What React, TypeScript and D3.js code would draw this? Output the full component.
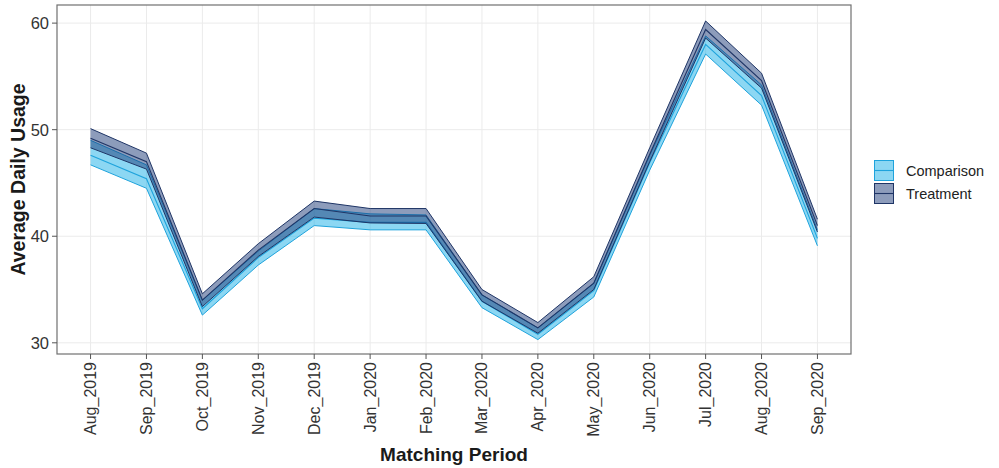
import React from "react";
import * as d3 from "d3";

const months = [
  "Aug_2019", "Sep_2019", "Oct_2019", "Nov_2019", "Dec_2019", "Jan_2020", "Feb_2020",
  "Mar_2020", "Apr_2020", "May_2020", "Jun_2020", "Jul_2020", "Aug_2020", "Sep_2020",
];

// Treatment group: mean and interval bounds
const treatMean = [49.2, 47.0, 34.0, 38.7, 42.6, 41.9, 41.9, 34.5, 31.4, 35.6, 47.7, 59.4, 54.6, 41.0];
const treatLow = [48.3, 46.3, 33.4, 38.1, 41.8, 41.25, 41.2, 33.9, 30.9, 35.0, 47.0, 58.6, 53.9, 40.4];
const treatHigh = [50.1, 47.8, 34.6, 39.3, 43.3, 42.6, 42.6, 35.0, 31.9, 36.2, 48.3, 60.2, 55.3, 41.6];

// Comparison group: mean and interval bounds
const compMean = [47.6, 45.4, 33.2, 38.0, 41.7, 41.3, 41.3, 33.9, 30.8, 34.9, 46.9, 58.0, 53.2, 39.8];
const compLow = [46.7, 44.5, 32.6, 37.3, 41.0, 40.6, 40.6, 33.3, 30.3, 34.3, 46.2, 57.1, 52.3, 39.1];
const compHigh = [49.0, 46.7, 34.0, 38.6, 42.6, 42.1, 42.0, 34.5, 31.4, 35.6, 47.6, 58.8, 54.2, 40.6];

const yTicks = [30, 40, 50, 60];
const groups = ["Comparison", "Treatment"];

const W = 999;
const H = 468;
const panel = { left: 57, right: 851, top: 5, bottom: 354 };

const FONT = "'Liberation Sans', Arial, sans-serif";

const styles: Record<string, { fill: string; fillOpacity: number; stroke: string }> = {
  Comparison: { fill: "#1ab0e8", fillOpacity: 0.5, stroke: "#1ea3dc" },
  Treatment: { fill: "#1c3a78", fillOpacity: 0.5, stroke: "#1f3566" },
};

export default function App() {
  const x = d3
    .scalePoint<string>()
    .domain(months)
    .range([panel.left, panel.right])
    .padding(0.6);
  const y = d3.scaleLinear().domain([28.95, 61.7]).range([panel.bottom, panel.top]);

  const series = [
    { name: "Comparison", mean: compMean, low: compLow, high: compHigh },
    { name: "Treatment", mean: treatMean, low: treatLow, high: treatHigh },
  ];

  const makeArea = (low: number[], high: number[]) =>
    d3
      .area<number>()
      .x((_, i) => x(months[i]) as number)
      .y0((_, i) => y(low[i]))
      .y1((_, i) => y(high[i]))(low) as string;

  const makeLine = (vals: number[]) =>
    d3
      .line<number>()
      .x((_, i) => x(months[i]) as number)
      .y((d) => y(d))(vals) as string;

  const midX = (panel.left + panel.right) / 2;
  const midY = (panel.top + panel.bottom) / 2;

  return (
    <svg width={W} height={H} style={{ position: "absolute", left: 0, top: 0, background: "#fff" }}>
      <rect x={0} y={0} width={W} height={H} fill="#fff" />
      {/* grid */}
      {yTicks.map((t) => (
        <line key={"gy" + t} x1={panel.left} x2={panel.right} y1={y(t)} y2={y(t)} stroke="#ebebeb" strokeWidth={1} />
      ))}
      {months.map((m) => (
        <line key={"gx" + m} x1={x(m)} x2={x(m)} y1={panel.top} y2={panel.bottom} stroke="#ebebeb" strokeWidth={1} />
      ))}

      {/* ribbons and lines */}
      {series.map((s) => {
        const st = styles[s.name];
        return (
          <g key={s.name}>
            <path d={makeArea(s.low, s.high)} fill={st.fill} fillOpacity={st.fillOpacity} stroke="none" />
            <path d={makeLine(s.high)} fill="none" stroke={st.stroke} strokeWidth={1} />
            <path d={makeLine(s.low)} fill="none" stroke={st.stroke} strokeWidth={1} />
            <path d={makeLine(s.mean)} fill="none" stroke={st.stroke} strokeWidth={1.1} />
          </g>
        );
      })}

      {/* panel border */}
      <rect
        x={panel.left}
        y={panel.top}
        width={panel.right - panel.left}
        height={panel.bottom - panel.top}
        fill="none"
        stroke="#707070"
        strokeWidth={1.2}
      />

      {/* y axis */}
      {yTicks.map((t) => (
        <g key={"yt" + t}>
          <line x1={panel.left - 5} x2={panel.left} y1={y(t)} y2={y(t)} stroke="#555" strokeWidth={1} />
          <text
            x={panel.left - 8}
            y={y(t)}
            dy="0.36em"
            textAnchor="end"
            fontFamily={FONT}
            fontSize={16.5}
            fill="#333"
          >
            {t}
          </text>
        </g>
      ))}

      {/* x axis */}
      {months.map((m) => (
        <g key={"xt" + m}>
          <line x1={x(m)} x2={x(m)} y1={panel.bottom} y2={panel.bottom + 5} stroke="#555" strokeWidth={1} />
          <text
            transform={`translate(${(x(m) as number) + 5.5},${panel.bottom + 8}) rotate(-90)`}
            textAnchor="end"
            fontFamily={FONT}
            fontSize={16}
            fill="#333"
          >
            {m}
          </text>
        </g>
      ))}

      {/* axis titles */}
      <text
        x={midX}
        y={461}
        textAnchor="middle"
        fontFamily={FONT}
        fontSize={19}
        fontWeight="bold"
        fill="#1a1a1a"
      >
        Matching Period
      </text>
      <text
        transform={`translate(25,${midY}) rotate(-90)`}
        textAnchor="middle"
        fontFamily={FONT}
        fontSize={19.5}
        fontWeight="bold"
        fill="#1a1a1a"
      >
        Average Daily Usage
      </text>

      {/* legend */}
      {groups.map((g, i) => {
        const st = styles[g];
        const ky = 160 + i * 23;
        return (
          <g key={"lg" + g}>
            <rect x={874} y={ky} width={20} height={21} fill="#fff" />
            <rect
              x={874.5}
              y={ky + 0.5}
              width={19}
              height={20}
              fill={st.fill}
              fillOpacity={st.fillOpacity}
              stroke={st.stroke}
              strokeWidth={1}
            />
            <line x1={874.5} x2={893.5} y1={ky + 10.5} y2={ky + 10.5} stroke={st.stroke} strokeWidth={1.1} />
            <text x={906} y={ky + 10.5} dy="0.36em" fontFamily={FONT} fontSize={14.5} fill="#222">
              {g}
            </text>
          </g>
        );
      })}
    </svg>
  );
}
